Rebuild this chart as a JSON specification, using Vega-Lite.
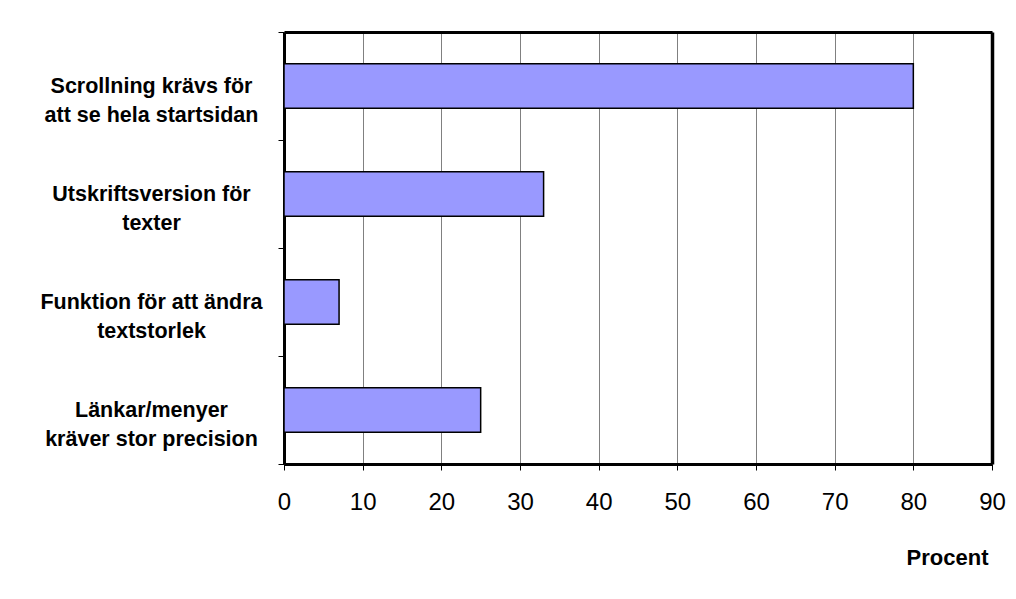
{
  "$schema": "https://vega.github.io/schema/vega-lite/v6.json",
  "width": 708,
  "height": 432,
  "autosize": {"type": "none"},
  "padding": {"left": 284, "top": 32, "right": 24, "bottom": 135},
  "background": "white",
  "data": {
    "values": [
      {"kategori": "Scrollning krävs för\natt se hela startsidan", "procent": 80},
      {"kategori": "Utskriftsversion för\ntexter", "procent": 33},
      {"kategori": "Funktion för att ändra\ntextstorlek", "procent": 7},
      {"kategori": "Länkar/menyer\nkräver stor precision", "procent": 25}
    ]
  },
  "layer": [
    {
      "mark": {
        "type": "bar",
        "fill": "#9999FF",
        "stroke": "black",
        "strokeWidth": 1.5,
        "height": {"band": 0.41}
      },
      "encoding": {
        "y": {
          "field": "kategori",
          "type": "nominal",
          "sort": null,
          "scale": {"paddingInner": 0, "paddingOuter": 0},
          "axis": {
            "title": null,
            "domain": true,
            "domainColor": "black",
            "domainWidth": 3,
            "grid": false,
            "tickBand": "extent",
            "ticks": true,
            "tickSize": 6,
            "tickColor": "black",
            "tickWidth": 1,
            "labelExpr": "datum.value ? split(datum.value, '\\n') : ''",
            "labelAlign": "center",
            "labelBaseline": "middle",
            "labelPadding": 127,
            "labelLimit": 400,
            "labelFont": "Liberation Sans",
            "labelFontWeight": "bold",
            "labelFontSize": 21.5,
            "labelLineHeight": 29,
            "labelColor": "black"
          }
        },
        "x": {
          "field": "procent",
          "type": "quantitative",
          "scale": {"domain": [0, 90], "nice": false},
          "axis": {
            "values": [0, 10, 20, 30, 40, 50, 60, 70, 80, 90],
            "domain": true,
            "domainColor": "black",
            "domainWidth": 3,
            "grid": true,
            "gridColor": "#808080",
            "gridWidth": 1,
            "gridOpacity": 1,
            "tickSize": 6,
            "tickColor": "black",
            "tickWidth": 1,
            "labelFont": "Liberation Sans",
            "labelFontSize": 24,
            "labelColor": "black",
            "labelPadding": 20,
            "labelFlush": false,
            "title": "Procent",
            "titleFont": "Liberation Sans",
            "titleFontWeight": "bold",
            "titleFontSize": 22,
            "titleColor": "black",
            "titleAnchor": null,
            "titleAlign": "center",
            "titleBaseline": "middle",
            "titleX": 663,
            "titleY": 93
          }
        }
      }
    },
    {
      "mark": {"type": "bar", "opacity": 0, "height": {"band": 0.41}},
      "encoding": {
        "y": {
          "field": "kategori",
          "type": "nominal",
          "sort": null,
          "axis": {
            "orient": "right",
            "title": null,
            "labels": false,
            "ticks": false,
            "grid": false,
            "domain": true,
            "domainColor": "black",
            "domainWidth": 3.5
          }
        },
        "x": {
          "field": "procent",
          "type": "quantitative",
          "axis": {
            "orient": "top",
            "title": null,
            "labels": false,
            "ticks": false,
            "grid": false,
            "domain": true,
            "domainColor": "black",
            "domainWidth": 3
          }
        }
      }
    }
  ],
  "resolve": {"axis": {"x": "independent", "y": "independent"}}
}
